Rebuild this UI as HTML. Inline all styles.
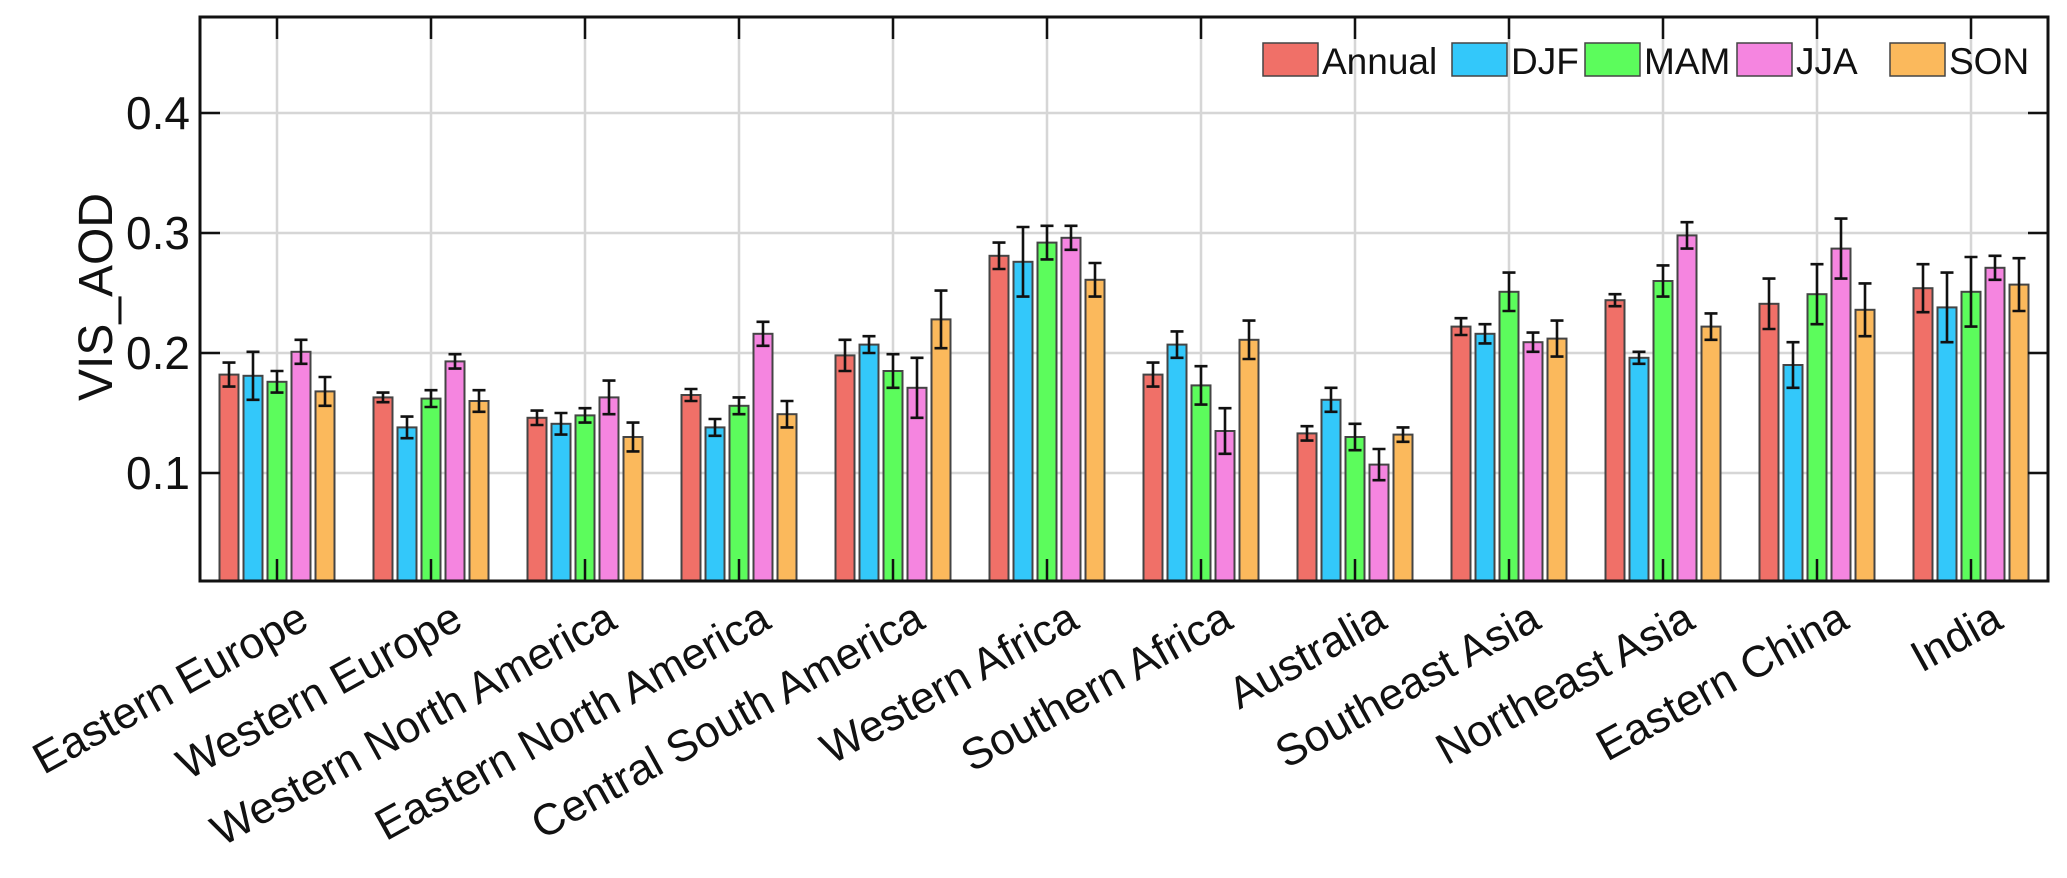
<!DOCTYPE html>
<html><head><meta charset="utf-8"><style>
html,body{margin:0;padding:0;background:#fff;}
svg{display:block;font-family:"Liberation Sans",Arial,sans-serif;}
</style></head><body>
<svg id="chart" width="2067" height="878" viewBox="0 0 2067 878">
<g id="grid"></g>
<g id="bars"></g>
<g id="axes"></g>
<g id="legend"></g>
</svg>
<script>
const categories = ["Eastern Europe","Western Europe","Western North America","Eastern North America","Central South America","Western Africa","Southern Africa","Australia","Southeast Asia","Northeast Asia","Eastern China","India"];
const seriesNames = ["Annual","DJF","MAM","JJA","SON"];
const seriesColors = ["#f07068","#33c8fa","#5cfc5c","#f585e0","#fbb95c"];
const annual = [0.182,0.163,0.146,0.165,0.198,0.281,0.182,0.133,0.222,0.244,0.241,0.254];
const djf    = [0.181,0.138,0.141,0.138,0.207,0.276,0.207,0.161,0.216,0.196,0.190,0.238];
const mam    = [0.176,0.162,0.148,0.156,0.185,0.292,0.173,0.130,0.251,0.260,0.249,0.251];
const jja    = [0.201,0.193,0.163,0.216,0.171,0.296,0.135,0.107,0.209,0.298,0.287,0.271];
const son    = [0.168,0.160,0.130,0.149,0.228,0.261,0.211,0.132,0.212,0.222,0.236,0.257];
const errAnnual = [0.010,0.004,0.006,0.005,0.013,0.011,0.010,0.006,0.007,0.005,0.021,0.020];
const errDjf    = [0.020,0.009,0.009,0.007,0.007,0.029,0.011,0.010,0.008,0.005,0.019,0.029];
const errMam    = [0.009,0.007,0.006,0.007,0.014,0.014,0.016,0.011,0.016,0.013,0.025,0.029];
const errJja    = [0.010,0.006,0.014,0.010,0.025,0.010,0.019,0.013,0.008,0.011,0.025,0.010];
const errSon    = [0.012,0.009,0.012,0.011,0.024,0.014,0.016,0.006,0.015,0.011,0.022,0.022];
const yTicks = [0.1,0.2,0.3,0.4];
const yTickLabels = ["0.1","0.2","0.3","0.4"];

const values=[annual,djf,mam,jja,son], errs=[errAnnual,errDjf,errMam,errJja,errSon];
const L=200,R=2048,T=17,B=581,yMin=0.01,yMax=0.48;
const NS="http://www.w3.org/2000/svg";
function y(v){return B-(v-yMin)/(yMax-yMin)*(B-T);}
const gw=(R-L)/categories.length;
function xc(i){return L+gw*(i+0.5);}
function mk(p,tag,attrs,txt){const e=document.createElementNS(NS,tag);for(const k in attrs)e.setAttribute(k,attrs[k]);if(txt!==undefined)e.textContent=txt;p.appendChild(e);return e;}
const grid=document.getElementById('grid'),bars=document.getElementById('bars'),axes=document.getElementById('axes'),leg=document.getElementById('legend');
yTicks.forEach((t,i)=>{
  const g=mk(grid,'line',{x1:L,x2:R,y1:y(t),y2:y(t),stroke:'#d6d6d6','stroke-width':2.5});
  
  
  mk(axes,'line',{x1:L,x2:L+20,y1:y(t),y2:y(t),stroke:'#111','stroke-width':2.5});
  mk(axes,'line',{x1:R-20,x2:R,y1:y(t),y2:y(t),stroke:'#111','stroke-width':2.5});
  const tl=mk(axes,'text',{x:L-10,y:y(t)+16,'text-anchor':'end','font-size':46,fill:'#111'},yTickLabels[i]);
  
  
});
categories.forEach((c,i)=>{
  const g=mk(grid,'line',{x1:xc(i),x2:xc(i),y1:T,y2:B,stroke:'#d6d6d6','stroke-width':2.5});
  
  
  mk(axes,'line',{x1:xc(i),x2:xc(i),y1:T,y2:T+22,stroke:'#111','stroke-width':2.5});
  mk(axes,'line',{x1:xc(i),x2:xc(i),y1:B-22,y2:B,stroke:'#111','stroke-width':2.5});
  const lb=mk(axes,'text',{transform:`translate(${xc(i)+18},598) rotate(-29)`,'text-anchor':'end','font-size':44,fill:'#111',dy:'0.75em'},c);
  
  
  for(let s=0;s<5;s++){
    const cx=xc(i)+(s-2)*24, v=values[s][i], e=errs[s][i];
    const r=mk(bars,'rect',{x:cx-9.5,y:y(v),width:19,height:B-y(v),fill:seriesColors[s],stroke:'#444','stroke-width':2});
    
    
    const eb=mk(bars,'path',{d:`M${cx},${y(v+e)}V${y(v-e)}M${cx-6.5},${y(v+e)}H${cx+6.5}M${cx-6.5},${y(v-e)}H${cx+6.5}`,stroke:'#111','stroke-width':2.6,fill:'none'});
    
    
  }
});
mk(axes,'rect',{x:L,y:T,width:R-L,height:B-T,fill:'none',stroke:'#111','stroke-width':3});
const yl=mk(axes,'text',{transform:'translate(112,297) rotate(-90)','text-anchor':'middle','font-size':48,fill:'#111'},'VIS_AOD');


const legX=[1263,1452,1585,1737,1890];
seriesNames.forEach((n,s)=>{
  const b=mk(leg,'rect',{x:legX[s],y:43,width:55,height:33,fill:seriesColors[s],stroke:'#444','stroke-width':1.5});
  
  
  const t=mk(leg,'text',{x:legX[s]+59,y:74,'font-size':37,fill:'#111'},n);
  
  
});
</script>
</body></html>
